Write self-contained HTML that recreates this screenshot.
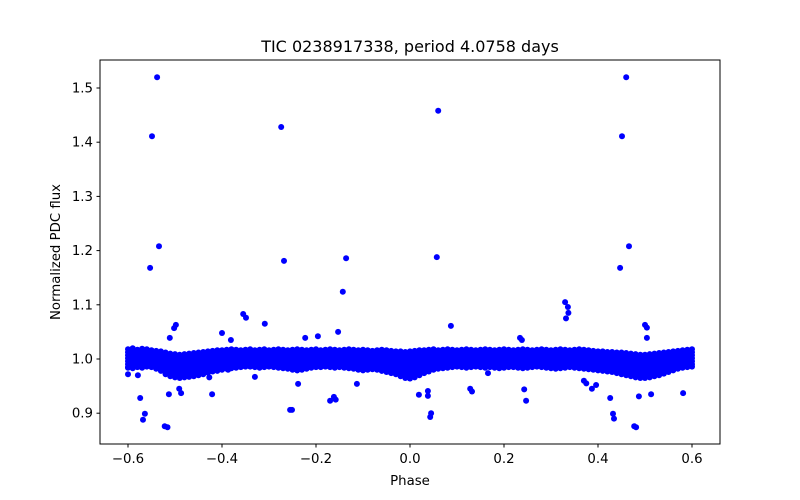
<!DOCTYPE html>
<html><head><meta charset="utf-8"><style>
body{margin:0;background:#fff}
svg{display:block;font-family:"DejaVu Sans","Liberation Sans",sans-serif}
</style></head><body>
<svg id="chart" width="800" height="500">
<rect x="0" y="0" width="800" height="500" fill="#fff"/>
<text x="410" y="52" font-size="16" text-anchor="middle">TIC 0238917338, period 4.0758 days</text>
<g id="marks"></g>
<rect x="100" y="60" width="620" height="384" fill="none" stroke="#000" stroke-width="1"/>
<g id="axes"></g>
<text x="410" y="485" font-size="13.3" text-anchor="middle">Phase</text>
<text x="60" y="252" font-size="13.3" text-anchor="middle" transform="rotate(-90 60 252)">Normalized PDC flux</text>
</svg>
<script>
const xTicks=[-0.6,-0.4,-0.2,0.0,0.2,0.4,0.6];
const xTickLabels=["−0.6","−0.4","−0.2","0.0","0.2","0.4","0.6"];
const yTicks=[0.9,1.0,1.1,1.2,1.3,1.4,1.5];
const yTickLabels=["0.9","1.0","1.1","1.2","1.3","1.4","1.5"];
const bandLo=[0.984,0.983,0.985,0.984,0.986,0.985,0.982,0.978,
0.972,0.968,0.966,0.965,0.966,0.967,0.968,0.970,0.972,
0.975,0.977,0.978,0.980,0.982,0.983,0.984,0.985,
0.986,0.986,0.985,0.984,0.985,0.986,0.985,0.984,0.983,0.982,0.980,0.979,0.980,0.982,0.984,0.985,0.985,0.986,0.985,0.984,0.985,0.984,0.983,0.982,0.980,0.979,0.980,0.981,0.980,0.978,0.976,0.974,0.972,
0.968,0.965,0.964,0.966,0.970,
0.974,0.977,0.980,0.982,0.983,0.984,0.985,0.986,0.985,0.984,0.985,0.986,0.985,0.984,0.985,0.984,0.983,0.984,0.985,0.985,0.984,0.983,0.984,0.985,0.986,0.985,0.984,0.983,0.982,0.983,0.984,0.985,0.984,0.983,0.982,0.981,0.980,0.979,0.978,0.977,0.976,0.974,0.972,
0.970,0.968,0.966,0.965,0.965,0.966,0.968,0.970,0.973,
0.976,0.979,0.982,0.984,0.985,0.986];
const bandHi=[1.018,1.020,1.017,1.019,1.018,1.016,1.015,1.014,
1.012,1.010,1.009,1.008,1.009,1.010,1.011,1.012,1.013,
1.014,1.015,1.016,1.016,1.017,1.018,1.017,1.016,
1.017,1.018,1.016,1.017,1.018,1.016,1.017,1.018,1.017,1.016,1.017,1.018,1.017,1.016,1.017,1.018,1.016,1.017,1.018,1.017,1.016,1.017,1.018,1.017,1.016,1.017,1.016,1.015,1.016,1.017,1.016,1.015,1.014,
1.014,1.013,1.014,1.015,1.016,
1.016,1.017,1.018,1.016,1.017,1.018,1.017,1.016,1.017,1.018,1.017,1.016,1.017,1.018,1.017,1.016,1.017,1.018,1.017,1.016,1.017,1.018,1.017,1.016,1.017,1.018,1.017,1.016,1.017,1.018,1.017,1.016,1.017,1.018,1.017,1.016,1.015,1.014,1.014,1.013,1.013,1.012,1.012,
1.011,1.010,1.009,1.008,1.008,1.009,1.010,1.011,1.012,
1.013,1.014,1.015,1.016,1.017,1.018];
const outPhase=[-0.538,-0.549,-0.534,-0.553,-0.274,-0.268,-0.136,-0.143,0.060,0.057,0.087,0.460,0.451,0.466,0.447,0.330,0.336,0.337,0.332,-0.355,-0.349,-0.309,-0.498,-0.502,-0.400,-0.153,-0.223,-0.196,0.234,0.238,-0.511,-0.381,0.500,0.504,0.504,
-0.600,-0.579,-0.574,-0.564,-0.568,-0.522,-0.516,-0.513,-0.487,-0.491,-0.421,-0.427,-0.387,-0.330,-0.255,-0.251,-0.238,-0.170,-0.162,-0.158,-0.113,0.019,0.038,0.038,0.045,0.043,0.128,0.132,0.166,0.243,0.247,0.387,0.396,0.426,0.432,0.434,0.477,0.481,0.487,0.513,0.581,0.370,0.375];
const outFlux=[1.520,1.411,1.208,1.168,1.428,1.181,1.186,1.124,1.458,1.188,1.061,1.520,1.411,1.208,1.168,1.105,1.096,1.085,1.075,1.083,1.076,1.065,1.063,1.057,1.048,1.050,1.039,1.042,1.039,1.035,1.039,1.035,1.063,1.058,1.039,
0.972,0.970,0.928,0.899,0.888,0.876,0.874,0.935,0.937,0.945,0.935,0.966,0.980,0.967,0.906,0.906,0.954,0.923,0.930,0.925,0.954,0.934,0.941,0.932,0.900,0.893,0.945,0.940,0.974,0.944,0.923,0.945,0.952,0.928,0.899,0.890,0.876,0.874,0.931,0.935,0.937,0.960,0.955];
const X=p=>410+p*470, Y=f=>359-(f-1)*542;
const NS="http://www.w3.org/2000/svg";
const marks=document.getElementById('marks'), axes=document.getElementById('axes');
function dot(x,y){const c=document.createElementNS(NS,'circle');c.setAttribute('cx',x.toFixed(1));c.setAttribute('cy',y.toFixed(1));c.setAttribute('r','3');c.setAttribute('fill','#0000ff');


marks.appendChild(c);}
bandLo.forEach((lo,i)=>{const p=-0.6+i*0.01;const hi=bandHi[i];const y0=Y(hi),y1=Y(lo);
for(let y=y0;y<=y1;y+=3)dot(X(p),y);dot(X(p),y1);});
outPhase.forEach((p,i)=>dot(X(p),Y(outFlux[i])));
function el(tag,attrs,txt){const e=document.createElementNS(NS,tag);for(const k in attrs)e.setAttribute(k,attrs[k]);if(txt)e.textContent=txt;axes.appendChild(e);return e;}
xTicks.forEach((t,i)=>{const x=X(t);
const l=el('line',{x1:x,x2:x,y1:444,y2:447.5,stroke:'#000'});


const tx=el('text',{x:x,y:463,'font-size':13.3,'text-anchor':'middle'},xTickLabels[i]);

});
yTicks.forEach((t,i)=>{const y=Y(t);
const l=el('line',{x1:96.5,x2:100,y1:y,y2:y,stroke:'#000'});


const tx=el('text',{x:93,y:y+4.5,'font-size':13.3,'text-anchor':'end'},yTickLabels[i]);

});
</script>
</body></html>
